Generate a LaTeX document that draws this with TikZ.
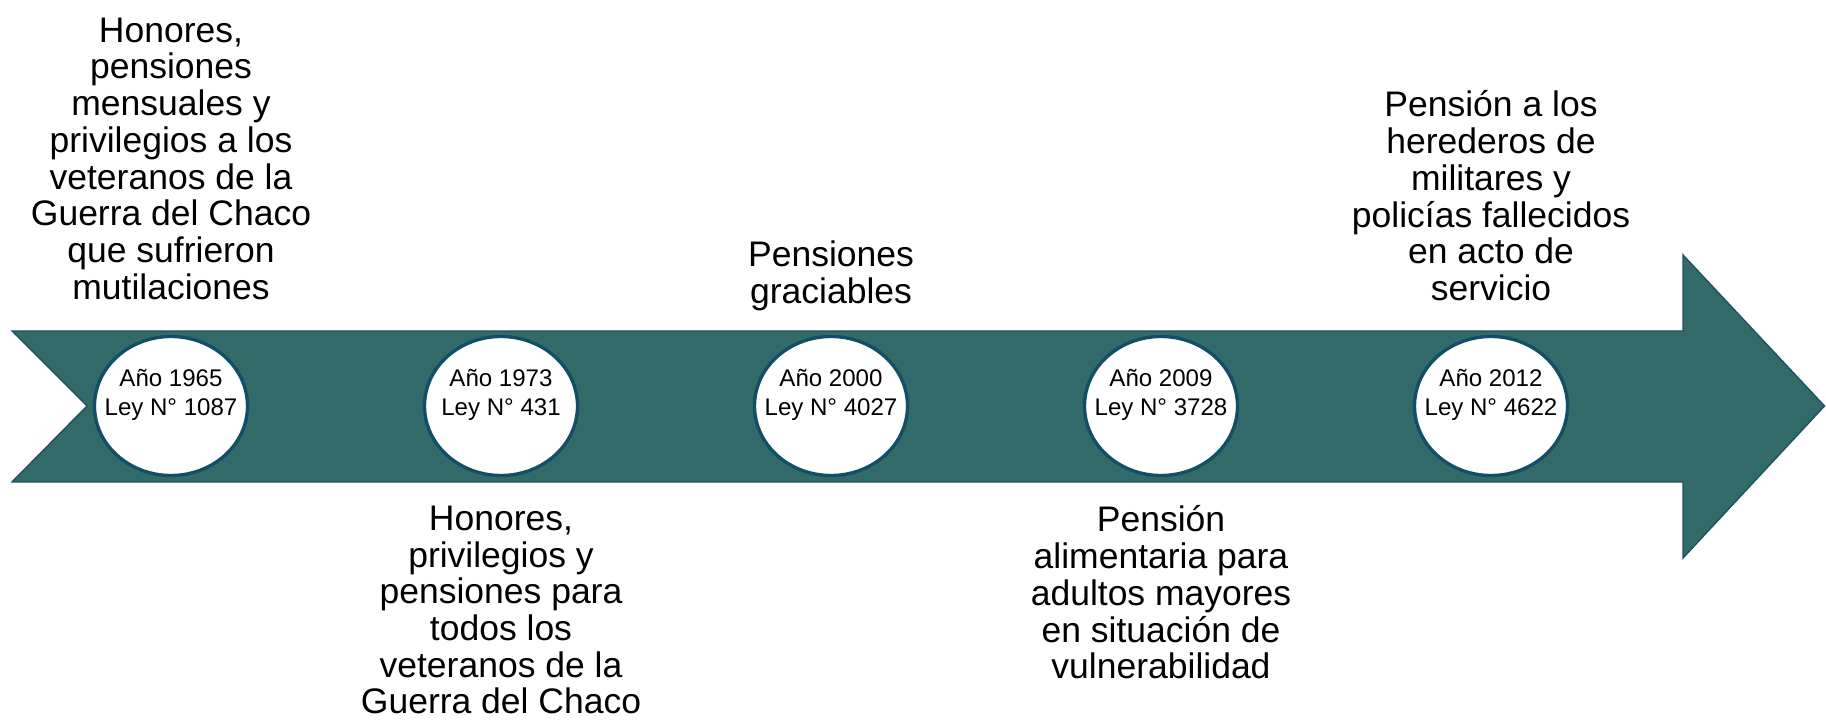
\documentclass[tikz,border=0pt]{standalone}
\usepackage{fontspec}
\setmainfont{Liberation Sans}
\usepackage{xcolor}
\usepackage{tkz-euclide}

\definecolor{verdeflecha}{RGB}{49,106,105}
\definecolor{bordeflecha}{RGB}{30,80,100}
\definecolor{bordehito}{RGB}{18,78,102}

\begin{document}
\begin{tikzpicture}[
        hito/.style={draw=bordehito, line width=1.9pt, fill=white},
        fecha/.style={font=\fontsize{13.7}{16.3}\selectfont, align=center, inner sep=0pt},
        texto/.style={font=\fontsize{20.2}{20.9}\selectfont, align=center, anchor=north, inner sep=0pt}]
        % Paso 1: Fija el marco del dibujo
        \useasboundingbox (0,0) rectangle (36.52,14.46);

        % Paso 2: Define los vértices de la flecha
        \tkzDefPoint(0.24,7.84){A}
        \tkzDefPoint(33.66,7.84){B}
        \tkzDefPoint(33.66,9.36){C}
        \tkzDefPoint(36.49,6.34){D}
        \tkzDefPoint(33.66,3.30){E}
        \tkzDefPoint(33.66,4.82){F}
        \tkzDefPoint(0.24,4.82){G}
        \tkzDefPoint(1.74,6.34){H}

        % Paso 3: Rellena la flecha
        \filldraw[fill=verdeflecha, draw=bordeflecha, line width=0.8pt]
            (A) -- (B) -- (C) -- (D) -- (E) -- (F) -- (G) -- (H) -- cycle;

        % Paso 4: Define el centro de cada hito
        \tkzDefPoint(3.42,6.34){h1}
        \tkzDefPoint(10.02,6.34){h2}
        \tkzDefPoint(16.62,6.34){h3}
        \tkzDefPoint(23.22,6.34){h4}
        \tkzDefPoint(29.82,6.34){h5}

        % Paso 5: Dibuja los hitos
        \draw[hito] (h1) ellipse [x radius=1.53, y radius=1.39];
        \draw[hito] (h2) ellipse [x radius=1.53, y radius=1.39];
        \draw[hito] (h3) ellipse [x radius=1.53, y radius=1.39];
        \draw[hito] (h4) ellipse [x radius=1.53, y radius=1.39];
        \draw[hito] (h5) ellipse [x radius=1.53, y radius=1.39];

        % Paso 6: Escribe año y ley en cada hito
        \node[fecha] (f1) at ([yshift=0.22cm]h1) {Año 1965\\Ley N° 1087};
        \node[fecha] (f2) at ([yshift=0.22cm]h2) {Año 1973\\Ley N° 431};
        \node[fecha] (f3) at ([yshift=0.22cm]h3) {Año 2000\\Ley N° 4027};
        \node[fecha] (f4) at ([yshift=0.22cm]h4) {Año 2009\\Ley N° 3728};
        \node[fecha] (f5) at ([yshift=0.22cm]h5) {Año 2012\\Ley N° 4622};

        % Paso 7: Describe cada ley
        \node[texto] (t1) at (3.42,14.11) {Honores,\\pensiones\\mensuales y\\privilegios a los\\veteranos de la\\Guerra del Chaco\\que sufrieron\\mutilaciones};
        \node[texto] (t2) at (10.02,4.35) {Honores,\\privilegios y\\pensiones para\\todos los\\veteranos de la\\Guerra del Chaco};
        \node[texto] (t3) at (16.62,9.65) {Pensiones\\graciables};
        \node[texto] (t4) at (23.22,4.35) {Pensión\\alimentaria para\\adultos mayores\\en situación de\\vulnerabilidad};
        \node[texto] (t5) at (29.82,12.65) {Pensión a los\\herederos de\\militares y\\policías fallecidos\\en acto de\\servicio};
\end{tikzpicture}
\end{document}
